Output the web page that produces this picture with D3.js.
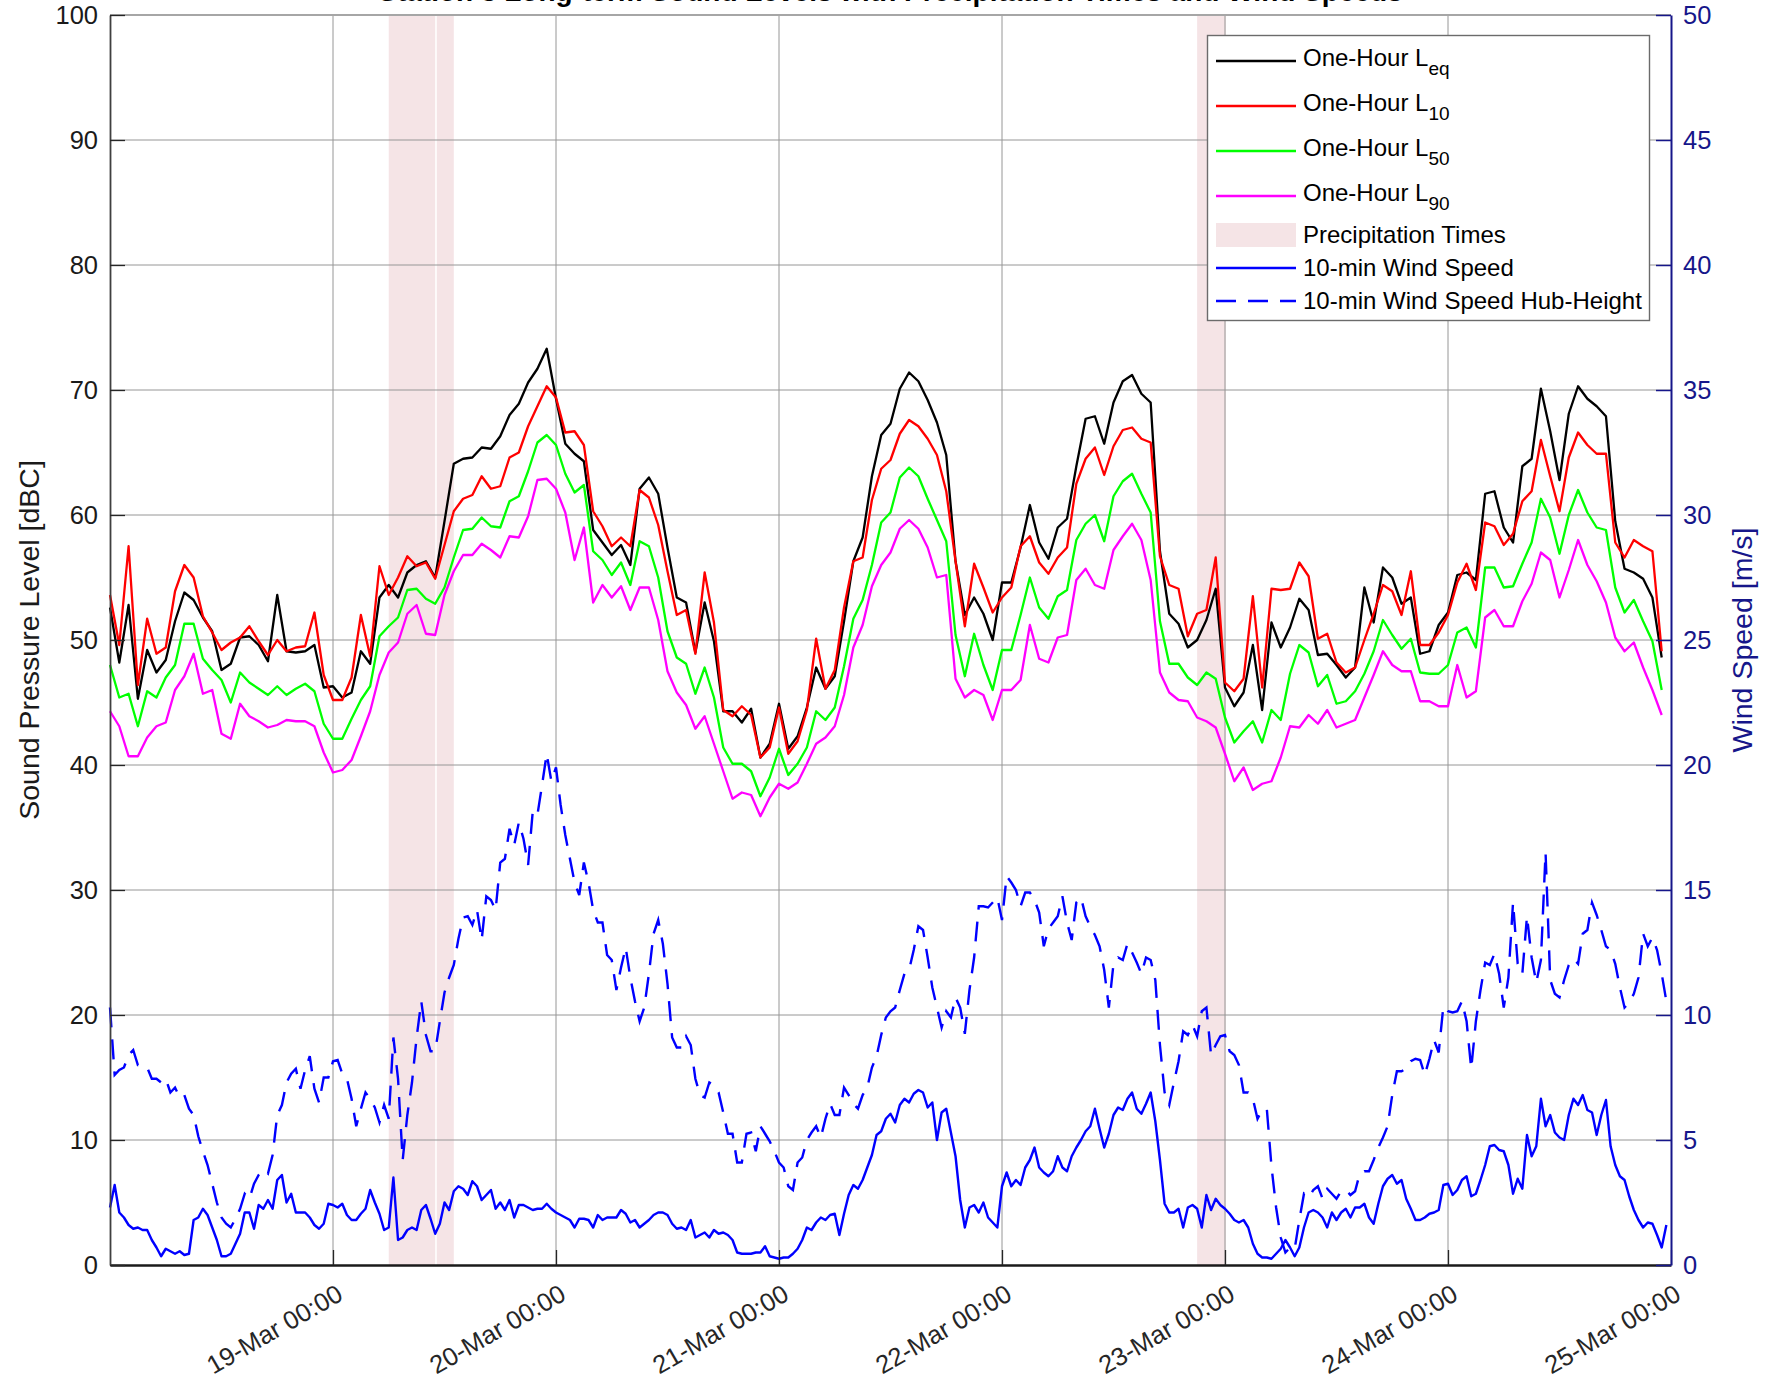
<!DOCTYPE html>
<html><head><meta charset="utf-8">
<script src="https://cdn.jsdelivr.net/npm/d3@7"></script>
<style>
body{margin:0;background:#fff}
svg{display:block}
text{font-family:"Liberation Sans",Arial,Helvetica,sans-serif}
</style>
</head><body>
<svg id="chart" width="1781" height="1386"></svg>
<script>
// ---------------- DATA ----------------
// NOTE: the reference title is cropped at the top edge and cannot be read; this wording is a placeholder guess.
const titleText = "Station 3 Long-term Sound Levels with Precipitation Times and Wind Speeds";
const startDate = [2022, 2, 18];           // 18-Mar 00:00, hourly / half-hourly samples
const xTickDays = [19, 20, 21, 22, 23, 24, 25];
const leftTicks = [0,10,20,30,40,50,60,70,80,90,100];
const rightTicks = [0,5,10,15,20,25,30,35,40,45,50];

// One-hour levels [dBC], hourly from 18-Mar 00:00
const leq = [
52.6,48.2,52.8,45.3,49.2,47.4,48.4,51.5,53.8,53.2,
51.8,50.7,47.6,48.1,50.2,50.3,49.6,48.3,53.6,49.1,
49.0,49.1,49.6,46.2,46.3,45.4,45.8,49.1,48.1,53.4,
54.4,53.4,55.4,56.0,56.3,55.0,59.5,64.1,64.5,64.6,
65.4,65.3,66.3,68.0,68.9,70.6,71.7,73.3,69.3,65.7,
64.9,64.3,58.8,57.8,56.8,57.6,56.0,62.1,63.0,61.7,
57.4,53.4,53.0,49.0,53.0,49.9,44.3,44.3,43.4,44.5,
40.6,41.7,44.9,41.3,42.3,44.6,47.8,46.1,47.1,51.5,
56.3,58.2,63.1,66.4,67.3,70.1,71.4,70.7,69.2,67.4,
64.8,56.3,52.0,53.4,52.1,50.0,54.6,54.6,57.4,60.8,
57.8,56.5,59.0,59.7,63.9,67.7,67.9,65.7,69.0,70.7,
71.2,69.7,69.0,57.1,52.1,51.3,49.4,50.0,51.6,54.1,
46.2,44.7,45.8,49.6,44.4,51.4,49.4,51.0,53.3,52.4,
48.8,48.9,48.0,47.0,47.8,54.2,51.4,55.8,55.0,52.9,
53.4,48.9,49.1,51.2,52.2,55.2,55.4,54.8,61.7,61.9,
59.0,57.8,63.9,64.5,70.1,66.7,62.8,68.1,70.3,69.3,
68.7,67.9,59.5,55.7,55.4,54.9,53.4,48.6];
const l10 = [
53.6,49.6,57.5,46.4,51.7,48.9,49.4,53.9,56.0,55.0,
51.9,50.6,49.2,49.8,50.2,51.1,49.9,48.8,50.0,49.1,
49.4,49.5,52.2,47.2,45.2,45.2,47.0,52.0,48.7,55.9,
53.6,55.0,56.7,55.9,56.2,54.9,57.6,60.3,61.3,61.6,
63.1,62.1,62.3,64.6,65.0,67.1,68.7,70.3,69.4,66.6,
66.7,65.6,60.3,59.1,57.5,58.2,57.5,62.0,61.4,59.2,
55.5,52.0,52.4,48.9,55.4,51.4,44.4,43.9,44.7,44.0,
40.6,41.4,44.6,40.9,41.9,44.4,50.1,46.1,47.6,52.6,
56.3,56.6,61.2,63.7,64.4,66.5,67.6,67.1,66.1,64.8,
61.9,56.3,51.1,56.1,54.2,52.2,53.4,54.2,57.5,58.3,
56.2,55.3,56.6,57.4,62.5,64.5,65.4,63.2,65.5,66.8,
67.0,66.1,65.8,56.7,54.4,54.1,50.3,52.1,52.4,56.6,
46.6,45.9,46.9,53.5,46.2,54.1,54.0,54.1,56.2,55.1,
50.1,50.5,48.2,47.4,47.8,50.0,52.1,54.4,53.9,52.0,
55.5,49.6,49.6,50.6,52.0,54.6,56.1,54.0,59.4,59.1,
57.6,58.5,61.1,61.9,66.0,63.1,60.3,64.6,66.6,65.6,
64.9,64.9,57.8,56.6,58.0,57.5,57.1,49.1];
const l50 = [
48.0,45.4,45.7,43.1,45.9,45.4,47.0,48.0,51.3,51.3,
48.5,47.6,46.8,45.0,47.4,46.6,46.1,45.6,46.3,45.6,
46.1,46.5,45.9,43.3,42.1,42.1,43.7,45.2,46.3,50.3,
51.1,51.8,54.0,54.1,53.3,52.9,54.2,56.6,58.8,58.9,
59.8,59.1,59.0,61.1,61.5,63.5,65.8,66.4,65.6,63.3,
61.8,62.4,57.1,56.4,55.2,56.2,54.4,57.9,57.5,55.0,
50.7,48.6,48.1,45.7,47.8,45.4,41.4,40.1,40.1,39.5,
37.5,39.0,41.3,39.2,40.1,41.4,44.3,43.6,44.6,47.9,
51.7,53.2,56.0,59.4,60.2,63.0,63.8,63.1,61.3,59.6,
57.9,50.4,47.1,50.5,48.0,46.0,49.2,49.2,52.0,55.0,
52.6,51.7,53.5,54.0,58.0,59.3,60.0,57.9,61.5,62.7,
63.3,61.7,60.2,51.5,48.1,48.1,47.0,46.4,47.4,46.9,
43.8,41.8,42.7,43.5,41.8,44.4,43.6,47.3,49.6,49.0,
46.3,47.2,44.9,45.1,45.9,47.3,49.1,51.6,50.4,49.3,
50.1,47.4,47.3,47.3,48.0,50.6,51.0,49.4,55.8,55.8,
54.2,54.3,56.1,57.8,61.3,59.8,56.9,60.0,62.0,60.2,
59.0,58.8,54.2,52.2,53.2,51.5,49.9,46.0];
const l90 = [
44.3,43.1,40.7,40.7,42.2,43.1,43.4,46.0,47.1,48.9,
45.7,46.0,42.5,42.1,44.9,43.9,43.5,43.0,43.2,43.6,
43.5,43.5,43.1,41.0,39.4,39.6,40.4,42.3,44.3,47.2,
49.0,49.8,52.1,52.8,50.5,50.4,53.6,55.5,56.8,56.8,
57.7,57.2,56.6,58.3,58.2,59.9,62.8,62.9,62.1,60.2,
56.4,59.0,53.0,54.4,53.4,54.3,52.4,54.2,54.2,51.6,
47.5,45.8,44.8,42.9,43.9,41.7,39.5,37.3,37.8,37.6,
35.9,37.4,38.5,38.1,38.6,40.1,41.7,42.2,43.1,45.6,
49.4,51.2,54.3,56.0,57.0,58.9,59.6,58.9,57.4,55.0,
55.2,46.9,45.4,46.0,45.6,43.6,46.0,46.0,46.8,51.2,
48.5,48.2,50.2,50.4,54.8,55.7,54.4,54.1,57.2,58.3,
59.3,58.0,54.8,47.4,45.8,45.2,45.1,43.8,43.5,43.0,
40.9,38.7,39.8,38.0,38.5,38.7,40.6,43.1,43.0,44.0,
43.3,44.4,43.0,43.3,43.6,45.4,47.2,49.1,48.0,47.5,
47.5,45.1,45.1,44.7,44.7,48.0,45.4,45.9,51.8,52.4,
51.1,51.1,53.1,54.5,57.0,56.4,53.4,55.6,58.0,56.0,
54.7,53.0,50.2,49.1,49.8,47.8,46.0,44.0];

// Wind speed [m/s], half-hourly from 18-Mar 00:00
const windSpeed = [
2.3,3.2,2.1,1.9,1.6,1.45,1.5,1.4,1.4,1.0,
0.7,0.35,0.65,0.55,0.45,0.55,0.4,0.45,1.8,1.9,
2.25,2.0,1.5,1.0,0.35,0.35,0.45,0.85,1.25,2.1,
2.1,1.45,2.4,2.25,2.6,2.25,3.4,3.6,2.5,2.85,
2.1,2.1,2.1,1.9,1.6,1.45,1.65,2.45,2.4,2.3,
2.45,2.0,1.8,1.8,2.05,2.25,3.0,2.5,2.05,1.4,
1.5,3.5,1.0,1.1,1.4,1.5,1.4,2.2,2.4,1.85,
1.25,1.65,2.5,2.2,2.95,3.15,3.05,2.8,3.35,3.15,
2.6,2.8,3.0,2.25,2.5,2.2,2.6,1.9,2.4,2.4,
2.3,2.2,2.25,2.25,2.45,2.25,2.1,2.0,1.9,1.8,
1.5,1.85,1.85,1.8,1.5,2.0,1.8,1.9,1.9,1.9,
2.2,2.05,1.7,1.8,1.5,1.65,1.8,2.0,2.1,2.1,
2.0,1.65,1.45,1.5,1.4,1.8,1.1,1.2,1.3,1.1,
1.4,1.25,1.3,1.2,1.0,0.5,0.45,0.45,0.45,0.5,
0.5,0.75,0.35,0.3,0.25,0.3,0.3,0.45,0.65,1.0,
1.5,1.4,1.7,1.9,1.8,2.0,2.05,1.2,2.05,2.8,
3.2,3.05,3.4,3.9,4.4,5.2,5.35,5.85,6.05,5.7,
6.4,6.65,6.5,6.85,7.0,6.9,6.3,6.5,5.0,6.1,
6.25,5.3,4.35,2.6,1.5,2.3,2.4,2.1,2.5,1.9,
1.7,1.5,3.15,3.7,3.15,3.4,3.2,3.9,4.2,4.7,
3.9,3.7,3.55,3.75,4.35,3.9,3.75,4.35,4.7,5.0,
5.35,5.55,6.25,5.45,4.7,5.25,6.0,6.3,6.2,6.65,
6.9,6.25,6.05,6.45,6.9,5.75,4.2,2.45,2.1,2.1,
2.25,1.5,2.3,2.4,2.25,1.5,2.8,2.2,2.65,2.4,
2.25,2.05,1.8,1.7,1.8,1.5,0.85,0.45,0.3,0.3,
0.25,0.45,0.65,1.0,0.7,0.35,0.7,1.5,2.1,2.2,
2.1,1.9,1.5,2.1,1.8,2.1,2.25,1.9,2.3,2.3,
2.45,1.9,1.65,2.45,3.15,3.45,3.6,3.25,3.4,2.65,
2.25,1.8,1.8,1.9,2.05,2.1,2.2,3.2,3.25,2.8,
3.0,3.4,3.55,2.75,2.85,3.4,4.0,4.75,4.8,4.6,
4.55,4.0,2.85,3.45,3.05,5.2,4.35,4.75,6.65,5.55,
6.0,5.3,5.1,5.0,6.0,6.65,6.4,6.8,6.2,6.1,
5.2,6.0,6.6,4.75,4.0,3.55,3.4,2.75,2.2,1.8,
1.5,1.7,1.65,1.2,0.7,1.6];
const windHub = [
10.3,7.6,7.8,7.9,8.4,8.6,8.0,8.0,7.9,7.45,
7.45,7.3,7.45,6.9,7.1,6.7,6.8,6.25,6.0,5.15,
4.55,4.0,3.25,2.5,1.9,1.65,1.5,1.85,2.25,2.85,
2.65,3.25,3.6,3.8,3.65,4.4,6.0,6.4,7.3,7.65,
7.85,7.05,7.8,8.35,7.05,6.5,7.5,7.5,8.15,8.2,
7.65,7.45,6.65,5.55,6.25,6.9,6.65,6.3,5.7,6.4,
5.85,9.1,7.45,4.2,6.0,7.3,9.1,10.55,9.2,8.55,
8.55,9.75,10.9,11.5,12.0,13.05,13.9,13.95,13.6,14.2,
13.0,14.75,14.6,14.2,16.1,16.25,17.45,16.8,17.7,17.05,
16.0,18.15,18.0,19.2,20.45,19.35,19.9,18.4,17.2,16.25,
15.3,14.8,16.1,15.3,14.2,13.7,13.7,12.4,12.2,11.0,
11.9,12.7,11.5,10.55,9.75,10.3,11.65,13.25,13.8,12.85,
11.25,9.1,8.7,8.7,9.15,8.8,7.45,6.8,6.7,7.3,
7.2,6.9,6.1,5.25,5.25,4.1,4.1,5.25,5.3,4.55,
5.55,5.25,4.95,4.55,4.1,3.9,3.15,3.0,4.1,4.3,
5.0,5.3,5.55,5.1,5.85,6.45,6.0,6.0,7.1,6.8,
6.45,6.25,6.8,7.1,7.9,8.35,9.2,9.9,10.15,10.3,
11.0,11.65,11.8,12.6,13.55,13.4,12.3,11.1,10.3,9.5,
10.15,9.9,10.7,10.3,9.25,11.0,12.3,14.35,14.35,14.3,
14.5,14.7,13.8,15.55,15.3,15.0,14.35,14.9,14.9,14.6,
14.1,12.75,13.45,13.7,13.95,14.75,13.7,13.0,14.5,14.7,
13.95,13.55,13.2,12.75,11.8,10.3,12.05,12.3,12.2,12.85,
12.5,12.1,11.65,12.3,12.2,11.4,8.8,6.9,6.4,7.3,
8.15,9.35,9.2,9.6,9.15,10.15,10.3,8.4,8.8,9.15,
9.2,8.55,8.4,8.0,6.9,6.9,6.65,5.85,6.2,6.25,
3.95,2.3,1.1,0.5,0.7,0.65,1.8,2.85,2.7,3.0,
3.15,2.65,3.05,2.85,2.65,2.95,3.0,2.8,2.95,3.65,
3.75,3.75,4.2,4.7,5.1,5.55,6.8,7.75,7.75,7.85,
8.15,8.25,8.2,7.6,8.25,9.0,8.5,10.35,10.15,10.1,
10.15,10.55,9.75,7.85,9.75,11.0,12.1,12.0,12.45,11.65,
10.3,11.5,14.5,12.05,11.65,13.95,12.3,11.3,12.2,16.5,
11.4,10.85,10.7,11.4,12.0,12.25,12.05,13.25,13.4,14.5,
14.0,13.4,12.75,12.6,12.05,11.1,10.3,10.5,10.85,11.5,
13.25,12.75,13.1,12.6,11.65,10.55];

// Precipitation periods
const precipStart = ["2022-03-19T06:00", "2022-03-19T11:10", "2022-03-22T21:00"];
const precipEnd   = ["2022-03-19T11:00", "2022-03-19T13:00", "2022-03-23T00:05"];

// Legend
const legendNames = ["One-Hour L", "One-Hour L", "One-Hour L", "One-Hour L", "Precipitation Times", "10-min Wind Speed", "10-min Wind Speed Hub-Height"];
const legendSubs  = ["eq", "10", "50", "90", "", "", ""];
const seriesColors = ["#000000", "#ff0000", "#00ff00", "#ff00ff"];

// ---------------- DRAW ----------------
const svg = d3.select("#chart");
const L = 110, R = 1671, T = 15, B = 1265;
const navy = "#16168a", dark = "#262626";
const t0 = new Date(startDate[0], startDate[1], startDate[2]);
const hourAt = i => new Date(t0.getTime() + i * 3600e3);
const halfAt = i => new Date(t0.getTime() + i * 1800e3);
const parse = d3.timeParse("%Y-%m-%dT%H:%M");

const x = d3.scaleTime().domain([t0, new Date(startDate[0], startDate[1], 25)]).range([L, R]);
const yL = d3.scaleLinear().domain([0, 100]).range([B, T]);
const yR = d3.scaleLinear().domain([0, 50]).range([B, T]);

svg.append("rect").attr("width", 1781).attr("height", 1386).attr("fill", "#fff");

// precipitation bands
svg.append("g").selectAll("rect").data(precipStart).join("rect")
  .attr("x", (d) => x(parse(d)))
  .attr("width", (d, i) => x(parse(precipEnd[i])) - x(parse(d)))
  .attr("y", T).attr("height", B - T)
  .attr("fill", "#f5e4e6");

// grid
const grid = svg.append("g").attr("stroke", "#969696").attr("stroke-width", 1);
grid.selectAll(".hg").data(leftTicks.filter(v => v > 0 && v < 100)).join("line")
  .attr("x1", L).attr("x2", R).attr("y1", d => yL(d)).attr("y2", d => yL(d));
const dayDates = xTickDays.map(d => new Date(startDate[0], startDate[1], d));
grid.selectAll(".vg").data(dayDates.slice(0, -1)).join("line")
  .attr("y1", T).attr("y2", B).attr("x1", d => x(d)).attr("x2", d => x(d));
svg.append("line").attr("x1", L).attr("x2", R).attr("y1", T).attr("y2", T)
  .attr("stroke", "#a6a6a6").attr("stroke-width", 1.8);

// wind lines
const plot = svg.append("g");
const windLine = d3.line().x((d, i) => x(halfAt(i))).y(d => yR(d));
plot.append("path").datum(windSpeed).attr("d", windLine)
  .attr("fill", "none").attr("stroke", "#0000ff").attr("stroke-width", 2.4).attr("stroke-linejoin", "round");
plot.append("path").datum(windHub).attr("d", windLine)
  .attr("fill", "none").attr("stroke", "#0000ff").attr("stroke-width", 2.4).attr("stroke-dasharray", "20,12");

// level lines
const levLine = d3.line().x((d, i) => x(hourAt(i))).y(d => yL(d));
[leq, l10, l50, l90].forEach((arr, k) => {
  plot.append("path").datum(arr).attr("d", levLine)
    .attr("fill", "none").attr("stroke", seriesColors[k]).attr("stroke-width", 2.3).attr("stroke-linejoin", "round");
});

// axes
const fmt = d3.timeFormat("%d-%b %H:%M");
const ax = svg.append("g").attr("transform", `translate(0,${B})`)
  .call(d3.axisBottom(x).tickValues(dayDates).tickFormat(fmt).tickSize(-15).tickSizeOuter(0));
ax.select(".domain").attr("stroke", "#1a1a1a").attr("stroke-width", 2.4);
ax.selectAll(".tick line").attr("stroke", dark).attr("stroke-width", 1.3);
ax.selectAll(".tick text").attr("y", 0).attr("dy", 0)
  .attr("transform", "translate(11,34) rotate(-30)")
  .attr("text-anchor", "end").attr("fill", dark)
  .style("font-size", "25.5px").style("font-family", '"Liberation Sans",Arial,sans-serif');

const ayL = svg.append("g").attr("transform", `translate(${L},0)`)
  .call(d3.axisLeft(yL).tickValues(leftTicks).tickSize(-15).tickPadding(12).tickSizeOuter(0));
ayL.select(".domain").attr("stroke", "#404040").attr("stroke-width", 1.8);
ayL.selectAll(".tick line").attr("stroke", dark).attr("stroke-width", 1.3);
ayL.selectAll(".tick text").attr("fill", "#1a1a1a")
  .style("font-size", "25.5px").style("font-family", '"Liberation Sans",Arial,sans-serif');

const ayR = svg.append("g").attr("transform", `translate(${R},0)`)
  .call(d3.axisRight(yR).tickValues(rightTicks).tickSize(-15).tickPadding(12).tickSizeOuter(0));
ayR.select(".domain").attr("stroke", navy).attr("stroke-width", 2);
ayR.selectAll(".tick line").attr("stroke", navy).attr("stroke-width", 1.5);
ayR.selectAll(".tick text").attr("fill", navy)
  .style("font-size", "25.5px").style("font-family", '"Liberation Sans",Arial,sans-serif');

// axis labels
svg.append("text").attr("transform", `translate(39,${(T + B) / 2}) rotate(-90)`)
  .attr("text-anchor", "middle").attr("fill", "#1a1a1a").style("font-size", "28.5px")
  .text("Sound Pressure Level [dBC]");
svg.append("text").attr("transform", `translate(1752,${(T + B) / 2}) rotate(-90)`)
  .attr("text-anchor", "middle").attr("fill", navy).style("font-size", "28.5px")
  .text("Wind Speed [m/s]");

// title: cropped by the top edge exactly as in the reference (only glyph bottoms visible)
svg.append("text").attr("x", (L + R) / 2).attr("y", 1).attr("text-anchor", "middle")
  .attr("font-weight", "bold").attr("fill", "#000").style("font-size", "28px").text(titleText);

// legend
const lg = svg.append("g");
lg.append("rect").attr("x", 1207.5).attr("y", 35.5).attr("width", 442).attr("height", 285)
  .attr("fill", "#fff").attr("stroke", "#6b6b6b").attr("stroke-width", 1.4);
const rowY = [61, 106, 151, 196, 235, 268, 301];
const lx1 = 1216, lx2 = 1296, tx = 1303;
legendNames.forEach((name, i) => {
  const y = rowY[i];
  if (i < 4) {
    lg.append("line").attr("x1", lx1).attr("x2", lx2).attr("y1", y).attr("y2", y)
      .attr("stroke", seriesColors[i]).attr("stroke-width", 2.3);
  } else if (i === 4) {
    lg.append("rect").attr("x", lx1).attr("y", y - 12).attr("width", lx2 - lx1).attr("height", 24)
      .attr("fill", "#f5e4e6");
  } else {
    lg.append("line").attr("x1", lx1).attr("x2", lx2).attr("y1", y).attr("y2", y)
      .attr("stroke", "#0000ff").attr("stroke-width", 2.4)
      .attr("stroke-dasharray", i === 6 ? "20,12" : null);
  }
  const t = lg.append("text").attr("x", tx).attr("y", y + (legendSubs[i] ? 4.5 : 8.3))
    .attr("fill", "#000").style("font-size", "24px");
  t.append("tspan").text(name);
  if (legendSubs[i]) t.append("tspan").attr("dy", 9).style("font-size", "19px").text(legendSubs[i]);
});
</script>
</body></html>
